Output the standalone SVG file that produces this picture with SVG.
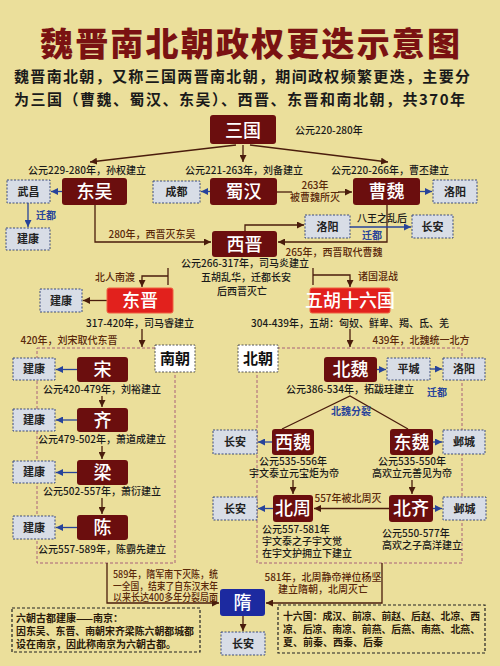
<svg xmlns="http://www.w3.org/2000/svg" width="500" height="666" viewBox="0 0 500 666">
<defs>
<marker id="ab" viewBox="0 0 8 8" refX="8" refY="4" markerWidth="7" markerHeight="7" markerUnits="userSpaceOnUse" orient="auto"><path d="M0,0 L8,4 L0,8 z" fill="#4a1c0c"/></marker>
<marker id="abl" viewBox="0 0 8 8" refX="8" refY="4" markerWidth="7" markerHeight="7" markerUnits="userSpaceOnUse" orient="auto"><path d="M0,0 L8,4 L0,8 z" fill="#27439a"/></marker>
<style>
text{font-family:"Noto Sans CJK SC","Noto Sans",sans-serif;}
.n rect{fill:#6b0e0e;rx:3px;}
.n text{fill:#fff;font-size:18px;font-weight:500;text-anchor:middle;}
.r rect{fill:#e2211d;stroke:#f06040;stroke-width:1;rx:2px;}
.c rect{fill:#d8dde6;stroke:#3a4a7a;stroke-width:1;stroke-dasharray:2 1.5;}
.c text{fill:#222;font-size:11px;font-weight:700;text-anchor:middle;}
.lb rect{fill:#fff;stroke:#555;stroke-width:1;stroke-dasharray:2 1.5;}
.lb text{fill:#111;font-size:15px;font-weight:700;text-anchor:middle;}
.ln{fill:none;stroke:#4a1c0c;stroke-width:1.3;}
.lnb{fill:none;stroke:#27439a;stroke-width:1.3;}
.y{fill:#1a1a1a;font-size:10px;font-weight:500;}
.t{fill:#5a280a;font-size:10px;font-weight:500;}
.bl{fill:#27439a;font-size:10px;font-weight:700;}
.fr{fill:none;stroke:#a8607a;stroke-width:1;stroke-dasharray:3 2;}
.note rect{fill:none;stroke:#222;stroke-width:1.2;stroke-dasharray:3 2;}
.note text{fill:#2a1a0a;font-size:10px;font-weight:700;}
</style>
</defs>
<rect x="0" y="0" width="500" height="666" fill="#ebdf9b"/>

<g id="title">
<text x="250" y="56" font-size="33" font-weight="900" fill="#7a1212" text-anchor="middle" textLength="420" lengthAdjust="spacing">魏晋南北朝政权更迭示意图</text>
<text x="14" y="82" font-size="15" font-weight="700" fill="#1a1a1a" textLength="456" lengthAdjust="spacing">魏晋南北朝，又称三国两晋南北朝，期间政权频繁更迭，主要分</text>
<text x="14" y="105" font-size="15" font-weight="700" fill="#1a1a1a" textLength="451" lengthAdjust="spacing">为三国（曹魏、蜀汉、东吴）、西晋、东晋和南北朝，共370年</text>
</g>

<g id="frames">
<rect class="fr" x="37" y="348" width="138" height="215"/>
<rect class="fr" x="257" y="348" width="205" height="215"/>
</g>

<g id="connectors">
<path class="ln" d="M236,145 L90,162" marker-end="url(#ab)"/>
<path class="ln" d="M243,145 V162" marker-end="url(#ab)"/>
<path class="ln" d="M250,145 L388,162" marker-end="url(#ab)"/>
<path class="lnb" d="M62,191.5 H51" marker-end="url(#abl)"/>
<path class="lnb" d="M210,191.5 H201" marker-end="url(#abl)"/>
<path class="lnb" d="M420,191.5 H432" marker-end="url(#abl)"/>
<path class="ln" d="M277,192 H292"/>
<path class="ln" d="M338,192 H352" marker-end="url(#ab)"/>
<path class="lnb" d="M28,203 V227" marker-end="url(#abl)"/>
<path class="ln" d="M95,205 V242 H211" marker-end="url(#ab)"/>
<path class="ln" d="M387,205 V242 H278" marker-end="url(#ab)"/>
<path class="ln" d="M245,231 V225 H304" marker-end="url(#ab)"/>
<path class="lnb" d="M350,227 H411" marker-end="url(#abl)"/>
<path class="ln" d="M168,268 V285"/>
<path class="ln" d="M168,276 H142 V287" marker-end="url(#ab)"/>
<path class="ln" d="M313,268 V285"/>
<path class="ln" d="M313,275 H350 V287" marker-end="url(#ab)"/>
<path class="ln" d="M107,300.5 H83" marker-end="url(#ab)"/>
<path class="ln" d="M142,329 V347" marker-end="url(#ab)"/>
<path class="ln" d="M350,329 V347" marker-end="url(#ab)"/>
<path class="lnb" d="M77,369.5 H56" marker-end="url(#abl)"/>
<path class="lnb" d="M77,420 H56" marker-end="url(#abl)"/>
<path class="lnb" d="M77,472.5 H56" marker-end="url(#abl)"/>
<path class="lnb" d="M77,527.5 H56" marker-end="url(#abl)"/>
<path class="ln" d="M102,396 V407" marker-end="url(#ab)"/>
<path class="ln" d="M102,446 V459" marker-end="url(#ab)"/>
<path class="ln" d="M102,498 V514" marker-end="url(#ab)"/>
<path class="lnb" d="M377,369.5 H386" marker-end="url(#abl)"/>
<path class="lnb" d="M430,369 H442" marker-end="url(#abl)"/>
<path class="ln" d="M282,429 L350,396 L408,429"/>
<path class="lnb" d="M272,442 H258" marker-end="url(#abl)"/>
<path class="lnb" d="M433,442 H442" marker-end="url(#abl)"/>
<path class="ln" d="M293,480 V494" marker-end="url(#ab)"/>
<path class="ln" d="M412,480 V494" marker-end="url(#ab)"/>
<path class="ln" d="M389,508.5 H314" marker-end="url(#ab)"/>
<path class="lnb" d="M273,508.5 H258" marker-end="url(#abl)"/>
<path class="lnb" d="M433,508.5 H442" marker-end="url(#abl)"/>
<path class="ln" d="M107,563 V603 H219" marker-end="url(#ab)"/>
<path class="ln" d="M382,563 V603 H266" marker-end="url(#ab)"/>
<path class="ln" d="M243,616 V631" marker-end="url(#ab)"/>
</g>

<g id="labels">
<text class="y" x="295" y="134" font-size="12">公元220-280年</text>
<text class="y" x="87" y="174" text-anchor="middle" font-size="10.5">公元229-280年，孙权建立</text>
<text class="y" x="244" y="174" text-anchor="middle" font-size="10.5">公元221-263年，刘备建立</text>
<text class="y" x="390" y="174" text-anchor="middle" font-size="10.5">公元220-266年，曹丕建立</text>
<text class="t" x="315" y="189" text-anchor="middle" font-size="9">263年</text>
<text class="t" x="315" y="201" text-anchor="middle" font-size="9">被曹魏所灭</text>
<text class="bl" x="36" y="219">迁都</text>
<text class="t" x="152" y="238" text-anchor="middle">280年，西晋灭东吴</text>
<text class="y" x="382" y="222" text-anchor="middle">八王之乱后</text>
<text class="bl" x="372" y="239" text-anchor="middle">迁都</text>
<text class="t" x="334" y="256" text-anchor="middle">265年，西晋取代曹魏</text>
<text class="y" x="245" y="267" text-anchor="middle" font-size="10.5">公元266-317年，司马炎建立</text>
<text class="y" x="246" y="281" text-anchor="middle" font-size="10.5">五胡乱华，迁都长安</text>
<text class="y" x="242" y="295" text-anchor="middle" font-size="10.5">后西晋灭亡</text>
<text class="t" x="115" y="281" text-anchor="middle">北人南渡</text>
<text class="t" x="378" y="280" text-anchor="middle">诸国混战</text>
<text class="y" x="140" y="327" text-anchor="middle" font-size="11">317-420年，司马睿建立</text>
<text class="y" x="350" y="327" text-anchor="middle" font-size="10.5">304-439年，五胡：匈奴、鲜卑、羯、氐、羌</text>
<text class="t" x="69" y="344" text-anchor="middle">420年，刘宋取代东晋</text>
<text class="t" x="421" y="344" text-anchor="middle">439年，北魏统一北方</text>
<text class="y" x="102" y="393" text-anchor="middle" font-size="9.5">公元420-479年，刘裕建立</text>
<text class="y" x="102" y="443" text-anchor="middle" font-size="9.5">公元479-502年，萧道成建立</text>
<text class="y" x="102" y="495" text-anchor="middle" font-size="9.5">公元502-557年，萧衍建立</text>
<text class="y" x="102" y="553" text-anchor="middle" font-size="9.5">公元557-589年，陈霸先建立</text>
<text class="y" x="350" y="393" text-anchor="middle" font-size="9.5">公元386-534年，拓跋珪建立</text>
<text class="bl" x="437" y="396" text-anchor="middle">迁都</text>
<text class="bl" x="351" y="415" text-anchor="middle">北魏分裂</text>
<text class="y" x="293" y="465" text-anchor="middle" font-size="9">公元535-556年</text>
<text class="y" x="294" y="477" text-anchor="middle" font-size="9">宇文泰立元宝炬为帝</text>
<text class="y" x="412" y="465" text-anchor="middle" font-size="9">公元535-550年</text>
<text class="y" x="412" y="477" text-anchor="middle" font-size="9">高欢立元善见为帝</text>
<text class="t" x="348" y="502" text-anchor="middle">557年被北周灭</text>
<text class="y" x="262" y="533" font-size="9">公元557-581年</text>
<text class="y" x="262" y="545" font-size="9">宇文泰之子宇文觉</text>
<text class="y" x="262" y="557" font-size="9">在宇文护拥立下建立</text>
<text class="y" x="382" y="537" font-size="9">公元550-577年</text>
<text class="y" x="382" y="549" font-size="9">高欢之子高洋建立</text>
<text class="t" x="113" y="578" font-size="8.5" textLength="105" lengthAdjust="spacingAndGlyphs">589年，隋军南下灭陈，统</text>
<text class="t" x="113" y="589.5" font-size="8.5" textLength="105" lengthAdjust="spacingAndGlyphs">一全国，结束了自东汉末年</text>
<text class="t" x="113" y="601" font-size="8.5" textLength="105" lengthAdjust="spacingAndGlyphs">以来长达400多年分裂局面</text>
<text class="t" x="323" y="581" text-anchor="middle" font-size="9">581年，北周静帝禅位杨坚</text>
<text class="t" x="323" y="593" text-anchor="middle" font-size="9">建立隋朝，北周灭亡</text>
</g>

<g id="sanguo" class="n"><rect x="210" y="115" width="66" height="29"/><text x="243" y="137" font-size="20">三国</text></g>
<g id="dongwu" class="n"><rect x="62" y="178" width="65" height="27"/><text x="94.5" y="198">东吴</text></g>
<g id="shuhan" class="n"><rect x="210" y="178" width="67" height="27"/><text x="243.5" y="198">蜀汉</text></g>
<g id="caowei" class="n"><rect x="353" y="178" width="67" height="27"/><text x="386.5" y="198">曹魏</text></g>
<g id="wuchang" class="c"><rect x="7" y="180" width="43" height="23"/><text x="28.5" y="195.5">武昌</text></g>
<g id="chengdu" class="c"><rect x="153" y="181" width="47" height="22"/><text x="176.5" y="196">成都</text></g>
<g id="luoyang1" class="c"><rect x="433" y="180" width="44" height="23"/><text x="455" y="195.5">洛阳</text></g>
<g id="jiankang0" class="c"><rect x="6" y="228" width="44" height="22"/><text x="28" y="243">建康</text></g>
<g id="luoyang2" class="c"><rect x="305" y="215" width="45" height="23"/><text x="327.5" y="230.5">洛阳</text></g>
<g id="changan1" class="c"><rect x="412" y="215" width="41" height="23"/><text x="432.5" y="230.5">长安</text></g>
<g id="xijin" class="n"><rect x="212" y="231" width="65" height="26"/><text x="244.5" y="251" font-size="20">西晋</text></g>
<g id="dongjin" class="n r"><rect x="107" y="288" width="66" height="25"/><text x="140" y="307">东晋</text></g>
<g id="jiankang1" class="c"><rect x="40" y="289" width="42" height="23"/><text x="61" y="304.5">建康</text></g>
<g id="wuhu" class="n r"><rect x="310" y="288" width="80" height="25"/><text x="350" y="307" font-size="17">五胡十六国</text></g>

<g id="nanchao" class="lb"><rect x="155" y="345" width="40" height="27"/><text x="175" y="364">南朝</text></g>
<g id="beichao" class="lb"><rect x="238" y="345" width="40" height="27"/><text x="258" y="364">北朝</text></g>

<g id="song" class="n"><rect x="77" y="357" width="51" height="25"/><text x="102.5" y="376">宋</text></g>
<g id="qi" class="n"><rect x="77" y="408" width="51" height="24"/><text x="102.5" y="426.5">齐</text></g>
<g id="liang" class="n"><rect x="77" y="460" width="51" height="25"/><text x="102.5" y="479">梁</text></g>
<g id="chen" class="n"><rect x="77" y="515" width="51" height="25"/><text x="102.5" y="534">陈</text></g>
<g id="jiankang2" class="c"><rect x="13" y="358" width="42" height="22"/><text x="34" y="373">建康</text></g>
<g id="jiankang3" class="c"><rect x="13" y="409" width="42" height="22"/><text x="34" y="424">建康</text></g>
<g id="jiankang4" class="c"><rect x="13" y="461" width="42" height="22"/><text x="34" y="476">建康</text></g>
<g id="jiankang5" class="c"><rect x="13" y="516" width="42" height="23"/><text x="34" y="531.5">建康</text></g>

<g id="beiwei" class="n"><rect x="324" y="357" width="53" height="25"/><text x="350.5" y="376">北魏</text></g>
<g id="pingcheng" class="c"><rect x="387" y="358" width="43" height="22"/><text x="408.5" y="373">平城</text></g>
<g id="luoyang3" class="c"><rect x="443" y="358" width="42" height="22"/><text x="464" y="373">洛阳</text></g>
<g id="xiwei" class="n"><rect x="272" y="429" width="42" height="26"/><text x="293" y="448.5">西魏</text></g>
<g id="dongwei" class="n"><rect x="390" y="429" width="43" height="26"/><text x="411.5" y="448.5">东魏</text></g>
<g id="changan2" class="c"><rect x="213" y="430" width="44" height="24"/><text x="235" y="446">长安</text></g>
<g id="yecheng1" class="c"><rect x="443" y="430" width="42" height="24"/><text x="464" y="446">邺城</text></g>
<g id="beizhou" class="n"><rect x="273" y="495" width="40" height="27"/><text x="293" y="515">北周</text></g>
<g id="beiqi" class="n"><rect x="389" y="495" width="44" height="27"/><text x="411" y="515">北齐</text></g>
<g id="changan3" class="c"><rect x="213" y="497" width="44" height="23"/><text x="235" y="512.5">长安</text></g>
<g id="yecheng2" class="c"><rect x="443" y="497" width="43" height="23"/><text x="464.5" y="512.5">邺城</text></g>

<g id="sui" class="n"><rect x="220" y="589" width="45" height="27" style="fill:#1c2aa0"/><text x="242.5" y="609">隋</text></g>
<g id="changan4" class="c"><rect x="221" y="632" width="44" height="23"/><text x="243" y="647.5">长安</text></g>

<g id="note1" class="note"><rect x="12" y="608" width="188" height="44"/>
<text x="16" y="622">六朝古都建康——南京：</text>
<text x="16" y="635" textLength="178" lengthAdjust="spacingAndGlyphs">因东吴、东晋、南朝宋齐梁陈六朝都城都</text>
<text x="16" y="648">设在南京，因此称南京为六朝古都。</text>
</g>
<g id="note2" class="note"><rect x="278" y="605" width="207" height="48"/>
<text x="283" y="620" textLength="197" lengthAdjust="spacingAndGlyphs">十六国：成汉、前凉、前赵、后赵、北凉、西</text>
<text x="283" y="633" textLength="197" lengthAdjust="spacingAndGlyphs">凉、后凉、南凉、前燕、后燕、南燕、北燕、</text>
<text x="283" y="646">夏、前秦、西秦、后秦</text>
</g>
</svg>
